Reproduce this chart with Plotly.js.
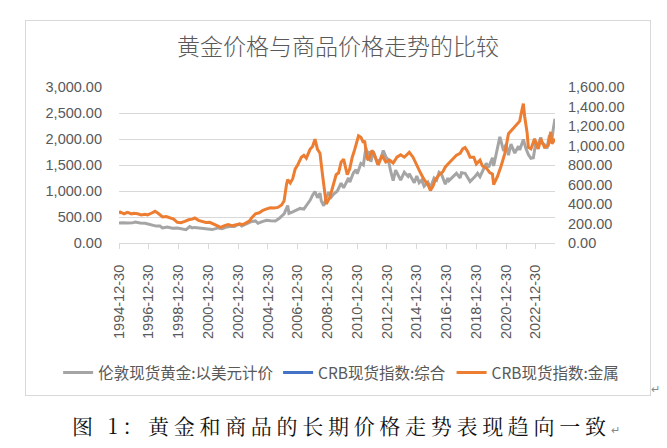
<!DOCTYPE html>
<html>
<head>
<meta charset="utf-8">
<script src="https://cdn.plot.ly/plotly-3.0.1.min.js"></script>
<style>
  html, body { margin: 0; padding: 0; background: #ffffff; width: 667px; height: 448px; overflow: hidden; }
  #frame { position: absolute; left: 25px; top: 20px; width: 626px; height: 376px; box-sizing: border-box; border: 1px solid #d9d9d9; }
  #chart { width: 624px; height: 374px; }
  #caption { position: absolute; left: 72px; top: 410px; font-family: "Noto Serif CJK SC", "Noto Sans CJK SC", sans-serif; font-size: 21px; letter-spacing: 4.7px; color: #111; white-space: nowrap; }
  .ret { font-size: 11px; color: #888; letter-spacing: 0; }
  #ret1 { position: absolute; left: 651px; top: 383px; }
</style>
</head>
<body>
<div id="frame"><div id="chart"></div></div>
<span id="ret1" class="ret">↵</span>
<div id="caption">图 1：黄金和商品的长期价格走势表现趋向一致<span class="ret">↵</span></div>
<script>
const chartTitle = '黄金价格与商品价格走势的比较';
const seriesNames = ['伦敦现货黄金:以美元计价', 'CRB现货指数:综合', 'CRB现货指数:金属'];
const tickLabels = ['1994-12-30','1996-12-30','1998-12-30','2000-12-30','2002-12-30','2004-12-30','2006-12-30','2008-12-30','2010-12-30','2012-12-30','2014-12-30','2016-12-30','2018-12-30','2020-12-30','2022-12-30'];

const goldDates = ['1994-12-30','1995-04','1995-08','1995-12','1996-02','1996-06','1996-10','1996-12','1997-03','1997-07','1997-10','1997-12','1998-04','1998-08','1998-12','1999-03','1999-07','1999-10','1999-12','2000-02','2000-06','2000-10','2000-12','2001-04','2001-09','2001-12','2002-03','2002-06','2002-10','2002-12','2003-02','2003-04','2003-08','2003-12','2004-03','2004-05','2004-09','2004-12','2005-03','2005-07','2005-10','2005-12','2006-02','2006-05','2006-06','2006-09','2006-12','2007-03','2007-06','2007-09','2007-11','2008-01','2008-03','2008-05','2008-07','2008-08','2008-10','2008-12','2009-02','2009-04','2009-06','2009-09','2009-12','2010-02','2010-06','2010-07','2010-10','2010-12','2011-01','2011-04','2011-06','2011-08','2011-09','2011-11','2011-12','2012-02','2012-05','2012-08','2012-10','2012-12','2013-02','2013-04','2013-06','2013-08','2013-12','2014-03','2014-06','2014-07','2014-11','2015-01','2015-03','2015-05','2015-07','2015-10','2015-12','2016-03','2016-05','2016-07','2016-09','2016-12','2017-02','2017-03','2017-06','2017-09','2017-12','2018-01','2018-04','2018-08','2018-12','2019-02','2019-04','2019-07','2019-09','2019-11','2019-12','2020-02','2020-03','2020-05','2020-07','2020-08','2020-11','2021-01','2021-03','2021-05','2021-08','2021-11','2021-12','2022-03','2022-05','2022-07','2022-09','2022-11','2023-01','2023-02','2023-05','2023-06','2023-08','2023-10','2023-12','2024-02','2024-03','2024-04-15'];
const goldValues = [383,390,383,387,405,385,380,369,352,325,325,290,308,285,288,280,255,315,290,300,285,268,272,258,290,277,300,318,318,345,365,325,375,415,425,380,415,438,430,425,470,515,560,720,570,600,632,665,650,740,820,920,990,870,960,810,715,870,980,880,940,1000,1150,1060,1250,1170,1350,1410,1330,1530,1500,1830,1700,1760,1560,1760,1550,1620,1780,1660,1600,1380,1200,1400,1210,1360,1280,1330,1160,1290,1160,1210,1090,1170,1060,1250,1210,1360,1320,1130,1250,1200,1270,1340,1250,1350,1340,1180,1280,1340,1275,1420,1530,1460,1515,1640,1480,1720,1970,2040,1770,1900,1690,1900,1730,1860,1790,1990,1820,1700,1630,1640,1940,1820,2030,1920,1890,1820,2070,2000,2180,2390];

const compositeDates = ['1994-12-30'];
const compositeValues = [null];

const metalsDates = ['1994-12-30','1995-02','1995-05','1995-08','1995-11','1996-01','1996-04','1996-07','1996-10','1996-12','1997-03','1997-06','1997-09','1997-12','1998-03','1998-06','1998-09','1998-12','1999-03','1999-06','1999-09','1999-12','2000-02','2000-05','2000-08','2000-11','2001-02','2001-06','2001-09','2001-11','2002-02','2002-05','2002-08','2002-11','2003-02','2003-05','2003-08','2003-10','2003-12','2004-03','2004-06','2004-09','2004-12','2005-03','2005-06','2005-09','2005-12','2006-02','2006-04','2006-05','2006-07','2006-09','2006-11','2007-01','2007-04','2007-06','2007-08','2007-11','2008-01','2008-03','2008-05','2008-07','2008-09','2008-11','2008-12','2009-03','2009-06','2009-08','2009-10','2009-12','2010-02','2010-05','2010-07','2010-09','2010-11','2011-02','2011-04','2011-06','2011-07','2011-09','2011-10','2012-01','2012-03','2012-06','2012-09','2012-12','2013-03','2013-06','2013-09','2013-12','2014-03','2014-07','2014-10','2015-01','2015-04','2015-07','2015-10','2015-12','2016-02','2016-04','2016-07','2016-10','2016-12','2017-03','2017-06','2017-09','2017-12','2018-02','2018-04','2018-06','2018-08','2018-11','2019-01','2019-04','2019-06','2019-09','2019-12','2020-02','2020-03','2020-06','2020-09','2020-12','2021-03','2021-06','2021-09','2021-12','2022-02','2022-03','2022-04','2022-06','2022-07','2022-09','2022-12','2023-03','2023-05','2023-08','2023-11','2024-01','2024-02','2024-04-15'];
const metalsValues = [302,318,300,315,298,305,300,288,295,288,305,325,300,268,272,258,245,212,208,222,238,245,256,232,218,210,212,190,170,160,178,188,178,185,195,190,212,225,260,300,310,335,350,362,358,365,390,430,600,650,615,660,760,800,880,900,870,960,990,1065,960,920,700,450,400,470,600,700,720,830,860,700,760,880,960,1100,1085,1030,1050,870,850,950,900,800,900,830,850,820,880,905,880,930,880,790,720,650,600,540,580,650,700,730,780,820,860,900,920,965,980,940,880,880,810,850,790,770,720,708,600,680,790,920,1120,1160,1200,1250,1380,1430,1300,1130,980,965,1068,965,1068,982,1000,1140,1017,1068];

const xRange = ['1994-12-30', '2024-04-15'];

const txt = '#595959';
const grid = '#d9d9d9';
const latin = '"Liberation Sans", Arial, "Noto Sans CJK SC", sans-serif';
const cjk = '"Noto Sans CJK SC", "Liberation Sans", sans-serif';

const traces = [
  { x: goldDates, y: goldValues, name: seriesNames[0], type: 'scatter', mode: 'lines', yaxis: 'y', legend: 'legend', line: { color: '#A5A5A5', width: 3 } },
  { x: compositeDates, y: compositeValues, name: seriesNames[1], type: 'scatter', mode: 'lines', yaxis: 'y2', legend: 'legend2', line: { color: '#4472C4', width: 3 } },
  { x: metalsDates, y: metalsValues, name: seriesNames[2], type: 'scatter', mode: 'lines', yaxis: 'y2', legend: 'legend3', line: { color: '#ED7D31', width: 3 } }
];

function legendAt(x) {
  return {
    orientation: 'h', xref: 'container', yref: 'container', x: x, xanchor: 'left', y: 0.059, yanchor: 'middle',
    font: { family: cjk, size: 15.5, color: txt }, bgcolor: 'rgba(0,0,0,0)', itemwidth: 30
  };
}

const layout = {
  width: 624, height: 374,
  margin: { l: 93, r: 95, t: 65.7, b: 152.3, pad: 0, autoexpand: false },
  paper_bgcolor: '#ffffff', plot_bgcolor: '#ffffff',
  showlegend: true,
  title: { text: chartTitle, x: 0.5, xref: 'container', xanchor: 'center', y: 0.93, yref: 'container', yanchor: 'middle', font: { family: cjk, size: 23, color: txt, weight: 300 } },
  xaxis: {
    type: 'date', range: xRange, tickmode: 'array', tickvals: tickLabels, ticktext: tickLabels,
    tickangle: -90, ticks: 'outside', ticklen: 5, tickcolor: grid, tickwidth: 1, automargin: false,
    showline: true, linecolor: grid, linewidth: 1, showgrid: false, zeroline: false,
    tickfont: { family: latin, size: 14.5, color: txt }, ticklabelstandoff: 10
  },
  yaxis: {
    range: [0, 3000], dtick: 500, tick0: 0, tickformat: ',.2f', showgrid: true, gridcolor: grid, gridwidth: 1, automargin: false,
    zeroline: false, showline: false, ticks: '', tickfont: { family: latin, size: 14.5, color: txt }, ticklabelstandoff: 16
  },
  yaxis2: {
    range: [0, 1600], dtick: 200, tick0: 0, tickformat: ',.2f', overlaying: 'y', side: 'right', showgrid: false, automargin: false,
    zeroline: false, showline: false, ticks: '', tickfont: { family: latin, size: 14.5, color: txt }, ticklabelstandoff: 12
  },
  legend: legendAt(0.0515),
  legend2: legendAt(0.404),
  legend3: legendAt(0.682)
};

Plotly.newPlot('chart', traces, layout, { displayModeBar: false, staticPlot: true });
</script>
</body>
</html>
